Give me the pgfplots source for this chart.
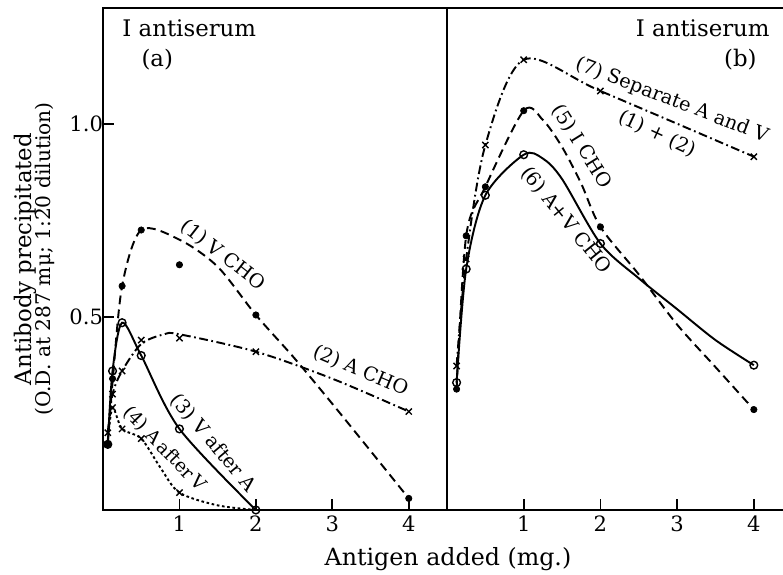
\documentclass[border=0pt]{standalone}
\usepackage{pgfplots}
\pgfplotsset{compat=1.18}
\usepackage{fontspec}
\setmainfont{DejaVu Serif}

\tikzset{
  longdash/.style={line width=1.1pt, dash pattern=on 5pt off 3pt},
  dashdot/.style={line width=1.1pt, dash pattern=on 5pt off 2pt on 1pt off 2pt},
  dots/.style={line width=1.1pt, dash pattern=on 1.5pt off 1.5pt},
  full/.style={line width=1.1pt},
  lbl/.style={font=\fontsize{11}{13}\selectfont, inner sep=0pt},
}

\pgfplotsset{
  panel/.style={
    scale only axis,
    height=10.04cm,
    ymin=0, ymax=1.30,
    xtick={1,2,3,4}, xticklabels={1,2,3,4},
    tick align=inside,
    major tick length=6pt,
    tick style={line width=1pt, black},
    axis line style={line width=1.2pt},
    ticklabel style={font=\fontsize{12}{14}\selectfont},
    yticklabel style={xshift=3.5pt},
    /pgf/number format/assume math mode=true,
    xtick pos=bottom, ytick pos=left,
    clip=false,
  },
  dotm/.style={only marks, mark=*, mark size=1.8pt, mark options={solid, fill=black}},
  circm/.style={only marks, mark=o, mark size=2.2pt, mark options={solid, line width=0.8pt, fill=white}},
  crossm/.style={only marks, mark=x, mark size=2.5pt, mark options={solid, line width=0.8pt}},
}

\begin{document}
\begin{tikzpicture}
\path[use as bounding box] (-2.06cm,-1.30cm) rectangle (13.60cm,10.20cm);

% ---------- panel (a)
\begin{axis}[panel, width=6.88cm, xmin=0, xmax=4.5,
  ytick={0.5,1.0}, yticklabels={0.5,1.0}]
% (1) V CHO
\addplot[longdash, smooth] coordinates {(0.0625,0.17)(0.125,0.33)(0.25,0.58)(0.5,0.725)(1,0.70)(1.5,0.63)(2,0.505)(2.5,0.394)(3,0.275)(3.5,0.153)(4,0.03)};
\addplot[dotm] coordinates {(0.0625,0.17)(0.125,0.34)(0.25,0.58)(0.5,0.725)(1,0.635)(2,0.505)(4,0.03)};
% (2) A CHO
\addplot[dashdot, smooth] coordinates {(0.0625,0.20)(0.125,0.30)(0.25,0.36)(0.5,0.43)(0.8,0.455)(1,0.455)(2,0.41)(3,0.34)(4,0.255)};
\addplot[crossm] coordinates {(0.0625,0.20)(0.125,0.30)(0.25,0.36)(0.5,0.44)(1,0.445)(2,0.41)(4,0.255)};
% (3) V after A
\addplot[full, smooth] coordinates {(0.0625,0.17)(0.125,0.36)(0.25,0.485)(0.5,0.40)(1,0.21)(2,0)};
\addplot[circm] coordinates {(0.0625,0.17)(0.125,0.36)(0.25,0.485)(0.5,0.40)(1,0.21)(2,0)};
% (4) A after V
\addplot[dots, smooth] coordinates {(0.0625,0.18)(0.125,0.265)(0.25,0.21)(0.5,0.185)(0.75,0.11)(1,0.045)(1.5,0.012)(2,0)};
\addplot[crossm] coordinates {(0.125,0.265)(0.25,0.21)(0.5,0.185)(1,0.045)};

\node[anchor=north west, inner sep=0pt, font=\fontsize{13}{15}\selectfont] at (axis cs:0.25,1.27) {I antiserum};
\node[anchor=north west, inner sep=0pt, font=\fontsize{13}{15}\selectfont] at (axis cs:0.5,1.195) {(a)};
\node[lbl, rotate=-38] at (axis cs:1.57,0.66) {(1) V CHO};
\node[lbl, rotate=-23] at (axis cs:3.37,0.36) {(2) A CHO};
\node[lbl, rotate=-50] at (axis cs:1.44,0.173) {(3) V after A};
\node[lbl, rotate=-46, font=\fontsize{10.5}{12}\selectfont] at (axis cs:0.80,0.158) {(4) A\,after\,V};

\node[rotate=90, align=center] at (axis description cs:-0.2,0.5)
  {{\fontsize{13}{15}\selectfont Antibody precipitated}\\[-1pt]
   {\fontsize{11.5}{13}\selectfont (O.D. at 287 mμ; 1:20 dilution)}};
\end{axis}

% ---------- panel (b)
\begin{axis}[panel, at={(6.88cm,0)}, width=6.72cm, xmin=0, xmax=4.38,
  ytick=\empty, separate axis lines, axis x line*=box, axis y line*=left]
% (7) separate A and V
\addplot[dashdot, smooth] coordinates {(0.125,0.373)(0.25,0.65)(0.5,0.945)(1,1.166)(2,1.085)(4,0.915)};
\addplot[crossm] coordinates {(0.125,0.373)(0.25,0.65)(0.5,0.945)(1,1.166)(2,1.085)(4,0.915)};
% (5) I CHO
\addplot[longdash, smooth] coordinates {(0.125,0.313)(0.25,0.71)(0.5,0.837)(1,1.034)(1.25,1.01)(1.5,0.94)(1.75,0.845)(2,0.733)(2.5,0.61)(3,0.48)(3.5,0.37)(4,0.26)};
\addplot[dotm] coordinates {(0.125,0.313)(0.25,0.71)(0.5,0.837)(1,1.034)(2,0.733)(4,0.26)};
% (6) A+V CHO
\addplot[full, smooth] coordinates {(0.125,0.33)(0.25,0.624)(0.5,0.815)(1,0.92)(1.25,0.91)(1.5,0.857)(2,0.69)(2.5,0.60)(3,0.52)(3.5,0.44)(4,0.375)};
\addplot[circm] coordinates {(0.125,0.33)(0.25,0.624)(0.5,0.815)(1,0.92)(2,0.69)(4,0.375)};

\node[anchor=north east, inner sep=0pt, font=\fontsize{13}{15}\selectfont] at (axis cs:4.21,1.27) {I antiserum};
\node[anchor=north east, inner sep=0pt, font=\fontsize{13}{15}\selectfont] at (axis cs:4.04,1.195) {(b)};
\node[lbl, rotate=-21] at (axis cs:2.93,1.06) {(7) Separate A and V};
\node[lbl, rotate=-25] at (axis cs:2.74,0.974) {(1) + (2)};
\node[lbl, rotate=-58] at (axis cs:1.76,0.94) {(5) I CHO};
\node[lbl, rotate=-51] at (axis cs:1.55,0.75) {(6) A+V CHO};
\end{axis}

\node[font=\fontsize{13.5}{15}\selectfont] at (6.9cm,-0.98cm) {Antigen added (mg.)};
\end{tikzpicture}
\end{document}
